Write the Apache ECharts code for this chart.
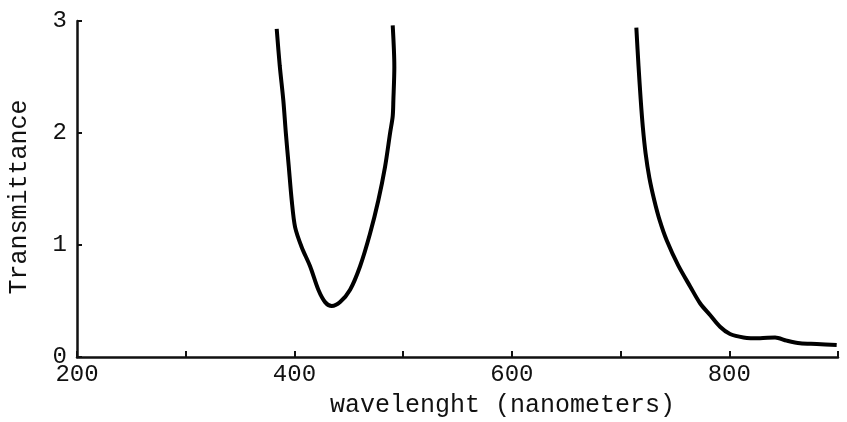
<!DOCTYPE html>
<html>
<head>
<meta charset="utf-8">
<script src="https://cdn.jsdelivr.net/npm/echarts@6/dist/echarts.min.js"></script>
<style>
  html, body { margin: 0; padding: 0; background: #fff; }
  #chart { width: 847px; height: 422px; }
</style>
</head>
<body>
<div id="chart"></div>
<script>
// Transmission band in the blue region (U-shaped dip)
const wavelengthsA = [383.7, 386.5, 389.8, 392.1, 394.8, 397.5, 400.6, 406.7, 414.4, 422.0, 428.2, 434.3, 442.0, 451.2, 460.4, 469.5, 477.2, 483.4, 488.0, 490.4, 491.0, 491.9, 490.4];
const transmittanceA = [2.93, 2.60, 2.29, 2.00, 1.70, 1.40, 1.16, 0.98, 0.81, 0.60, 0.49, 0.455, 0.49, 0.60, 0.81, 1.10, 1.40, 1.70, 2.00, 2.15, 2.29, 2.59, 2.96];

// Red / near-infrared edge and the long-wavelength tail
const wavelengthsB = [714.5, 716.5, 718.5, 720.5, 723.0, 726.5, 731.0, 736.0, 742.5, 752.9, 764.0, 773.1, 782.3, 791.5, 800.7, 813.0, 828.3, 842.1, 852.8, 865.1, 880.4, 898.8];
const transmittanceB = [2.94, 2.60, 2.30, 2.05, 1.82, 1.60, 1.40, 1.22, 1.04, 0.82, 0.63, 0.48, 0.375, 0.27, 0.205, 0.175, 0.167, 0.175, 0.146, 0.122, 0.116, 0.107];

// Axis ticks
const xTicks = [200, 300, 400, 500, 600, 700, 800, 900];
const xLabelled = [200, 400, 600, 800];
const yTicks = [0, 1, 2, 3];

const pairs = (xs, ys) => xs.map((x, i) => [x, ys[i]]);

const ink = '#111';
const font = '"Liberation Mono", "DejaVu Sans Mono", monospace';

const chart = echarts.init(document.getElementById('chart'), null, { renderer: 'canvas' });
chart.setOption({
  animation: false,
  backgroundColor: '#fff',
  grid: {
    left: 77, right: 9, top: 21, bottom: 65,
    containLabel: false,
    outerBoundsMode: 'none'
  },
  xAxis: {
    type: 'value',
    min: xTicks[0],
    max: xTicks[xTicks.length - 1],
    interval: 100,
    name: 'wavelenght (nanometers)',
    nameLocation: 'middle',
    nameGap: 36,
    nameTextStyle: { fontFamily: font, fontSize: 25, color: ink, padding: [0, 0, 0, 90] },
    axisLine: { lineStyle: { color: ink, width: 2.5 } },
    axisTick: { inside: true, length: 6, lineStyle: { color: ink, width: 2 } },
    splitLine: { show: false },
    axisLabel: {
      margin: 6,
      fontFamily: font, fontSize: 24, color: ink,
      formatter: v => (xLabelled.includes(v) ? String(v) : '')
    }
  },
  yAxis: {
    type: 'value',
    min: yTicks[0],
    max: yTicks[yTicks.length - 1],
    interval: 1,
    name: 'Transmittance',
    nameLocation: 'middle',
    nameGap: 45,
    nameTextStyle: { fontFamily: font, fontSize: 25, color: ink, padding: [0, 16, 0, 0] },
    axisLine: { show: true, lineStyle: { color: ink, width: 2.5 } },
    axisTick: { show: true, inside: true, length: 5, lineStyle: { color: ink, width: 2 } },
    splitLine: { show: false },
    axisLabel: { margin: 10, fontFamily: font, fontSize: 24, color: ink }
  },
  series: [
    {
      type: 'line',
      data: pairs(wavelengthsA, transmittanceA),
      smooth: 0.3,
      showSymbol: false,
      lineStyle: { color: '#000', width: 4 }
    },
    {
      type: 'line',
      data: pairs(wavelengthsB, transmittanceB),
      smooth: 0.3,
      showSymbol: false,
      lineStyle: { color: '#000', width: 4 }
    }
  ]
});
</script>
</body>
</html>
